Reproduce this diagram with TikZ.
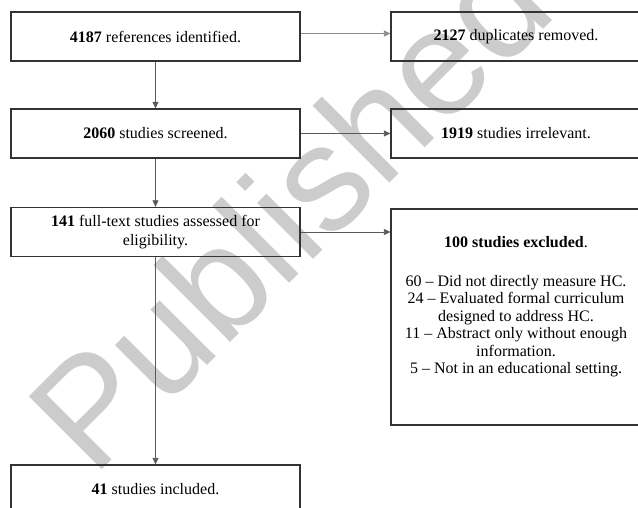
\documentclass[tikz,border=0pt]{standalone}
\usepackage{fontspec}
\setmainfont{Liberation Serif}
\newfontfamily\wmfont{Liberation Sans}
\usetikzlibrary{arrows.meta}
\begin{document}
\begin{tikzpicture}[x=1pt,y=-1pt,
  box/.style={draw=black!80,line width=1.3pt,minimum width=289pt,minimum height=49pt,inner sep=0pt,align=center,font=\fontsize{16}{18.5}\selectfont},
  rbox/.style={box,minimum width=250pt},
  conn/.style={draw=black!65,line width=0.8pt,-{Triangle[length=6.5pt,width=6pt]}},
  wmark/.style={font=\wmfont\fontsize{150}{150}\selectfont,text=black!20,rotate=45,inner sep=0pt}]
\useasboundingbox (0,0) rectangle (638,508);
\clip (0,0) rectangle (638,508);
\node[wmark] (wm) at (289,208) {Published};
\node[box] (a) at (155.5,36.5) {\textbf{4187} references identified.};
\node[rbox] (b) at (516,36.5) {\textbf{2127} duplicates removed.};
\node[box] (c) at (155.5,133.5) {\textbf{2060} studies screened.};
\node[rbox] (d) at (516,133.5) {\textbf{1919} studies irrelevant.};
\node[box] (e) at (155.5,232) {\textbf{141} full-text studies assessed for\\eligibility.};
\node[rbox,minimum height=216pt] (f) at (516,317) {};
\node[font=\fontsize{16}{17.5}\selectfont,align=center,anchor=north,inner sep=0pt] (ft) at (516,236)
  {\textbf{100 studies excluded}.\\[21.5pt]
   60 -- Did not directly measure HC.\\
   24 -- Evaluated formal curriculum\\
   designed to address HC.\\
   11 -- Abstract only without enough\\
   information.\\
   5 -- Not in an educational setting.};
\node[box] (g) at (155.5,489.5) {\textbf{41} studies included.};
\draw[conn,draw=black!45] ([yshift=3pt]a.east) -- ([yshift=3pt]b.west);
\draw[conn] (a.south) -- (c.north);
\draw[conn] (c.east) -- (d.west);
\draw[conn] (c.south) -- (e.north);
\draw[conn] (e.east) -- (e.east -| f.west);
\draw[conn] (e.south) -- (g.north);
\end{tikzpicture}
\end{document}
